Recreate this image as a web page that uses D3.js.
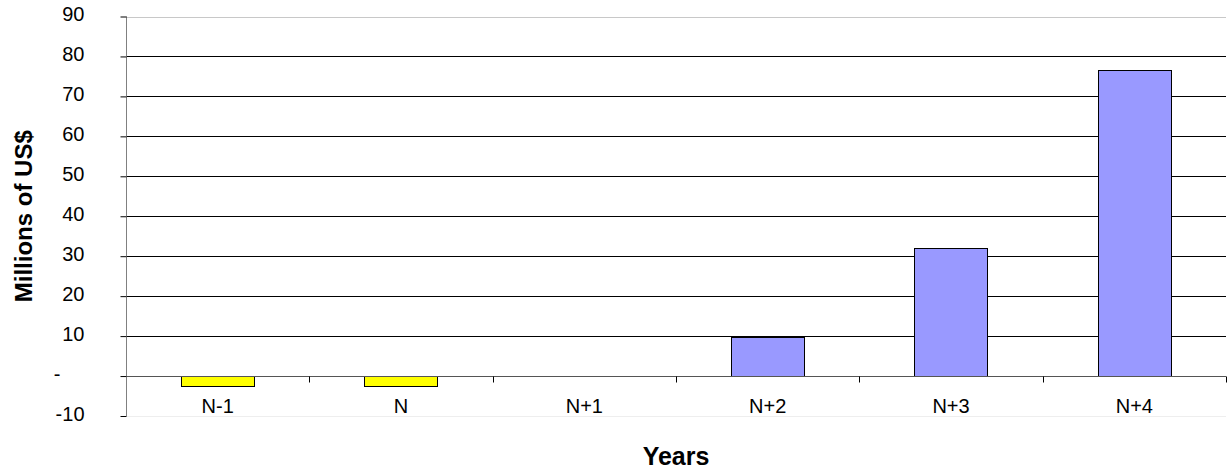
<!DOCTYPE html>
<html>
<head>
<meta charset="utf-8">
<script src="https://cdn.jsdelivr.net/npm/d3@7"></script>
<style>
  html, body { margin: 0; padding: 0; background: #fff; }
  svg { display: block; font-family: "Liberation Sans", Arial, sans-serif; }
</style>
</head>
<body>
<svg id="chart" width="1228" height="470"></svg>
<script>
// Yearly cash flow, millions of US$
const years = ["N-1", "N", "N+1", "N+2", "N+3", "N+4"];
const cashFlow = [-2.5, -2.5, 0, 9.7, 32, 76.5];
const yTicks = [-10, 0, 10, 20, 30, 40, 50, 60, 70, 80, 90];
const yTickLabels = ["-10", "-", "10", "20", "30", "40", "50", "60", "70", "80", "90"];

const svg = d3.select("#chart");
const plotLeft = 126, plotRight = 1226, plotTop = 16.5, plotBottom = 416;

const x = d3.scaleBand().domain(years).range([plotLeft, plotRight])
  .paddingInner(0.6).paddingOuter(0.3);
const y = d3.scaleLinear().domain([-10, 90]).range([plotBottom, plotTop]);

// horizontal gridlines
svg.append("g").selectAll("line").data(yTicks.filter(d => d !== 0)).join("line")
  .attr("x1", plotLeft).attr("x2", plotRight)
  .attr("y1", d => Math.round(y(d)) + 0.5).attr("y2", d => Math.round(y(d)) + 0.5)
  .attr("stroke", d => d === 90 ? "#c8c8c8" : d === -10 ? "#eeeeee" : "#000")
  .attr("stroke-width", 1);

// bars
svg.append("g").selectAll("rect").data(years.map((k, i) => ({k, v: cashFlow[i]})).filter(d => d.v !== 0))
  .join("rect")
  .attr("x", d => Math.round(x(d.k)) + 0.5)
  .attr("width", Math.round(x.bandwidth()))
  .attr("y", d => Math.round(y(Math.max(0, d.v))) + 0.5)
  .attr("height", d => Math.round(Math.abs(y(d.v) - y(0))))
  .attr("fill", d => d.v < 0 ? "#ffff00" : "#9999ff")
  .attr("stroke", "#000").attr("stroke-width", 1);

// zero line (category axis)
const zeroY = Math.round(y(0)) + 0.5;
svg.append("line").attr("x1", plotLeft).attr("x2", plotRight)
  .attr("y1", zeroY).attr("y2", zeroY).attr("stroke", "#555").attr("stroke-width", 1);

// category tick marks at band boundaries
const step = x.step();
const catTicks = d3.range(years.length + 1).map(i => plotLeft + i * step);
svg.append("g").selectAll("line").data(catTicks).join("line")
  .attr("x1", d => Math.round(d) + 0.5).attr("x2", d => Math.round(d) + 0.5)
  .attr("y1", zeroY).attr("y2", zeroY + 6).attr("stroke", "#000");

// category labels
svg.append("g").selectAll("text").data(years).join("text")
  .attr("x", d => x(d) + x.bandwidth() / 2).attr("y", 412.5)
  .attr("text-anchor", "middle").attr("font-size", 20).attr("fill", "#000")
  .text(d => d);

// value axis
const yAxis = svg.append("g").attr("transform", `translate(${plotLeft + 0.5},0)`)
  .call(d3.axisLeft(y).tickValues(yTicks).tickSize(6).tickPadding(36)
    .tickFormat((d, i) => yTickLabels[i]));
yAxis.select(".domain").attr("stroke", "#808080").attr("d", `M0,${plotTop}V${plotBottom}`);
yAxis.selectAll(".tick line").attr("stroke", "#000");
yAxis.selectAll(".tick text").attr("font-size", 20).attr("fill", "#000")
  .attr("font-family", "'Liberation Sans', Arial, sans-serif").attr("dy", "0.22em");
// accounting-style dash for zero sits left of the digit column
yAxis.selectAll(".tick text").filter(d => d === 0).attr("dx", -24);

// axis titles
svg.append("text").attr("x", (plotLeft + plotRight) / 2).attr("y", 465)
  .attr("text-anchor", "middle").attr("font-size", 25).attr("font-weight", "bold")
  .text("Years");
svg.append("text").attr("transform", `translate(32,${(plotTop + plotBottom) / 2}) rotate(-90)`)
  .attr("text-anchor", "middle").attr("font-size", 24).attr("font-weight", "bold")
  .text("Millions of US$");
</script>
</body>
</html>
